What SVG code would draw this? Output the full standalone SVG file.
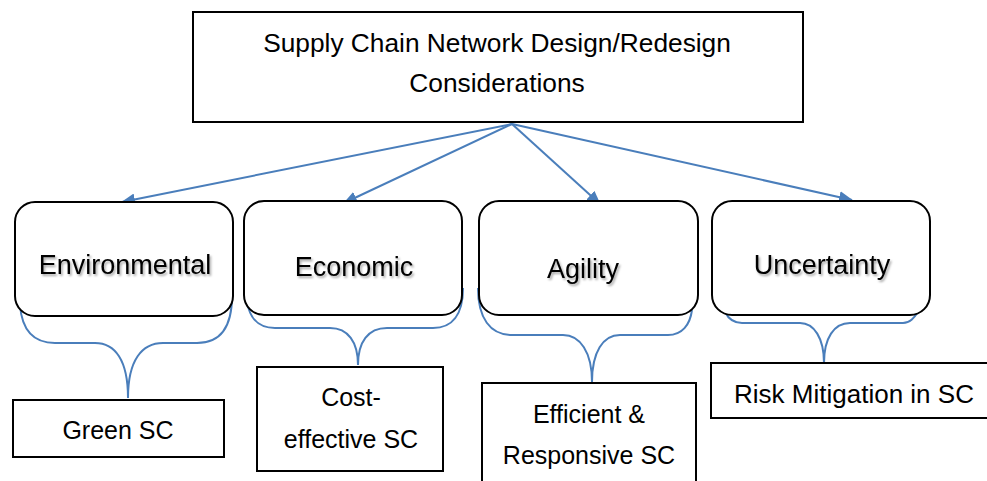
<svg xmlns="http://www.w3.org/2000/svg" width="987" height="481" viewBox="0 0 987 481">
<style>
.box{fill:#fff;stroke:#000;stroke-width:2}
.t{font-family:"Liberation Sans",Arial,sans-serif;fill:#000;text-anchor:middle}
.big{font-size:26.3px}
.lbl{font-size:27px}
.sub{font-size:25px}
.conn{fill:none;stroke:#4a7ebb;stroke-width:2}
.brace{fill:none;stroke:#4a7ebb;stroke-width:2}
</style>
<defs>
<marker id="arr" viewBox="0 0 14 12" refX="13" refY="6" markerWidth="14" markerHeight="12" markerUnits="userSpaceOnUse" orient="auto">
<path d="M0,0 L14,6 L0,12 Z" fill="#4a7ebb"/>
</marker>
<filter id="sh" x="-10%" y="-30%" width="120%" height="160%">
<feDropShadow dx="1.5" dy="2" stdDeviation="1.2" flood-color="#000" flood-opacity="0.35"/>
</filter>
</defs>
<rect width="987" height="481" fill="#fff"/>

<g id="connectors">
<line class="conn" x1="512" y1="124" x2="122" y2="202" marker-end="url(#arr)"/>
<line class="conn" x1="512" y1="124" x2="344" y2="203" marker-end="url(#arr)"/>
<line class="conn" x1="512" y1="124" x2="600" y2="204" marker-end="url(#arr)"/>
<line class="conn" x1="512" y1="124" x2="852" y2="200" marker-end="url(#arr)"/>
<path class="brace" d="M20 305 C22 332 35 343 55 343 L95 343 C115 343 128 360 128 398 M232 296 C232 330 218 343 197 343 L163 343 C142 343 128 360 128 398"/>
<path class="brace" d="M246 288 C246 315 255 328 275 328 L330 328 C348 328 358 342 358 365 M463 288 C463 315 452 328 433 328 L387 328 C368 328 358 342 358 365"/>
<path class="brace" d="M478 288 C478 318 490 335 512 335 L563 335 C580 335 592 352 592 382 M692 310 C690 325 682 335 668 335 L620 335 C603 335 592 352 592 382"/>
<path class="brace" d="M725 312 C728 318 733 323 742 323 L800 323 C814 323 824 338 824 363 M918 312 C914 318 910 323 903 323 L850 323 C834 323 824 338 824 363"/>
</g>

<g id="top">
<rect class="box" x="193" y="12" width="610" height="110"/>
<text class="t big" x="497" y="52">Supply Chain Network Design/Redesign</text>
<text class="t big" x="497" y="92">Considerations</text>
</g>

<g id="environmental">
<rect class="box" x="15" y="202" width="218" height="114" rx="20" ry="20"/>
<text class="t lbl" x="125" y="274" filter="url(#sh)">Environmental</text>
</g>
<g id="economic">
<rect class="box" x="244" y="201" width="218" height="114" rx="20" ry="20"/>
<text class="t lbl" x="354" y="276" filter="url(#sh)">Economic</text>
</g>
<g id="agility">
<rect class="box" x="479" y="201" width="219" height="114" rx="20" ry="20"/>
<text class="t lbl" x="583" y="278" filter="url(#sh)">Agility</text>
</g>
<g id="uncertainty">
<rect class="box" x="712" y="201" width="218" height="114" rx="20" ry="20"/>
<text class="t lbl" x="822" y="274" filter="url(#sh)">Uncertainty</text>
</g>

<g id="green">
<rect class="box" x="13" y="400" width="211" height="57"/>
<text class="t sub" x="118" y="439">Green SC</text>
</g>
<g id="cost">
<rect class="box" x="257" y="367" width="186" height="104"/>
<text class="t sub" x="351" y="406">Cost-</text>
<text class="t sub" x="351" y="448">effective SC</text>
</g>
<g id="efficient">
<rect class="box" x="482" y="383" width="214" height="110"/>
<text class="t sub" x="589" y="423">Efficient &amp;</text>
<text class="t sub" x="589" y="464">Responsive SC</text>
</g>
<g id="risk">
<rect class="box" x="711" y="363" width="290" height="55"/>
<text class="t sub" x="854" y="403" style="font-size:26px">Risk Mitigation in SC</text>
</g>
</svg>
